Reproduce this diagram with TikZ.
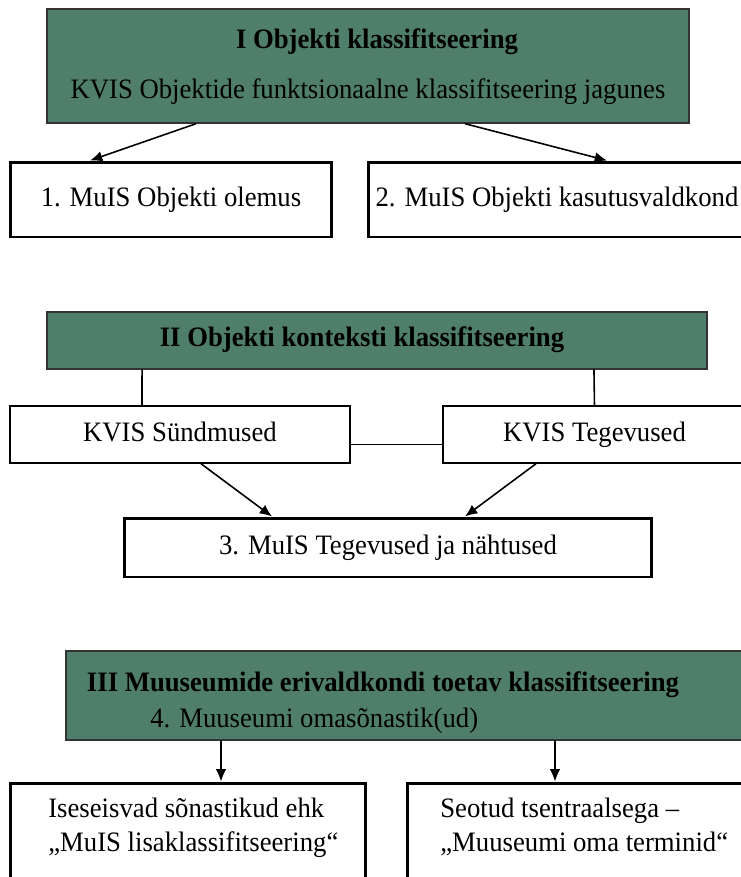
\documentclass[tikz,border=0pt]{standalone}
\usepackage{fontspec}
\setmainfont[FakeStretch=0.95]{Liberation Serif}
\usetikzlibrary{arrows.meta}
\definecolor{klassgreen}{HTML}{4F7F6A}

\begin{document}
\begin{tikzpicture}[x=0.02cm,y=-0.02cm,font=\fontsize{16}{18.5}\selectfont,
    >={Latex[length=7pt,width=6pt]}]
\useasboundingbox (0,0) rectangle (741,877);

% green heading boxes
\begin{scope}[every node/.style={draw=black!80,fill=klassgreen,line width=0.8pt,inner sep=0pt}]
    \node[minimum width=12.84cm,minimum height=2.28cm] (objk) at (368,66) {};
    \node[minimum width=13.2cm,minimum height=1.14cm] (ktx) at (377,340.5) {};
    \node[minimum width=13.6cm,minimum height=1.78cm] (omas) at (406,695.5) {};
\end{scope}

% texts in the heading boxes
\begin{scope}[every node/.style={inner sep=0pt,text height=11pt,text depth=3.5pt}]
    \node[font=\fontsize{16}{18.5}\selectfont\bfseries] (objkt) at (377,42) {I Objekti klassifitseering};
    \node (objkf) at (368,92) {KVIS Objektide funktsionaalne klassifitseering jagunes};
    \node[font=\fontsize{16}{18.5}\selectfont\bfseries] (ktxt) at (362,340) {II Objekti konteksti klassifitseering};
    \node[font=\fontsize{16}{18.5}\selectfont\bfseries] (omast) at (383,685) {III Muuseumide erivaldkondi toetav klassifitseering};
    \node[anchor=west] (omasf) at (150,721) {4. Muuseumi omasõnastik(ud)};
\end{scope}

% thick result boxes
\begin{scope}[every node/.style={draw,fill=white,line width=1.7pt,inner sep=0pt,text height=11pt,text depth=3.5pt}]
    \node[minimum width=6.44cm,minimum height=1.5cm] (olemus) at (171,199.5) {1. MuIS Objekti olemus};
    \node[minimum width=7.56cm,minimum height=1.5cm] (kasut) at (557,199.5) {2. MuIS Objekti kasutusvaldkond};
    \node[minimum width=10.56cm,minimum height=1.18cm] (nahtus) at (388,547.5) {3. MuIS Tegevused ja nähtused};
    \node[minimum width=7.12cm,minimum height=2.04cm] (lisa) at (188,834) {};
    \node[minimum width=6.78cm,minimum height=2.04cm] (term) at (576.5,834) {};
\end{scope}

% thin boxes
\begin{scope}[every node/.style={draw,fill=white,line width=0.8pt,inner sep=0pt,text height=11pt,text depth=3.5pt}]
    \node[minimum width=6.8cm,minimum height=1.14cm] (sund) at (180,434.5) {KVIS Sündmused};
    \node[minimum width=6.06cm,minimum height=1.14cm] (teg) at (594.5,434.5) {KVIS Tegevused};
\end{scope}

% two line texts
\begin{scope}[every node/.style={anchor=west,inner sep=0pt,text height=11pt,text depth=3.5pt}]
    \node (lisa1) at (48,811) {Iseseisvad sõnastikud ehk};
    \node (lisa2) at (48,845) {„MuIS lisaklassifitseering“};
    \node (term1) at (440,811) {Seotud tsentraalsega –};
    \node (term2) at (440,845) {„Muuseumi oma terminid“};
\end{scope}

\begin{scope}[line width=0.9pt]
    \path [->] ([xshift=-3.44cm]objk.south) edge ([xshift=-1.62cm]olemus.north);
    \path [->] ([xshift=1.94cm]objk.south) edge ([xshift=1.0cm]kasut.north);

    \path [-] ([xshift=-4.7cm]ktx.south) edge ([xshift=-0.76cm]sund.north);
    \path [-] ([xshift=4.34cm]ktx.south) edge (teg.north);
    \path [-] ([yshift=-0.2cm]sund.east) edge ([yshift=-0.2cm]teg.west);

    \path [->] ([xshift=0.42cm]sund.south) edge ([xshift=-2.32cm]nahtus.north);
    \path [->] ([xshift=-1.17cm]teg.south) edge ([xshift=1.54cm]nahtus.north);

    \path [->] ([xshift=-3.7cm]omas.south) edge ([xshift=0.66cm]lisa.north);
    \path [->] ([xshift=2.98cm]omas.south) edge ([xshift=-0.43cm]term.north);
\end{scope}

\end{tikzpicture}
\end{document}
